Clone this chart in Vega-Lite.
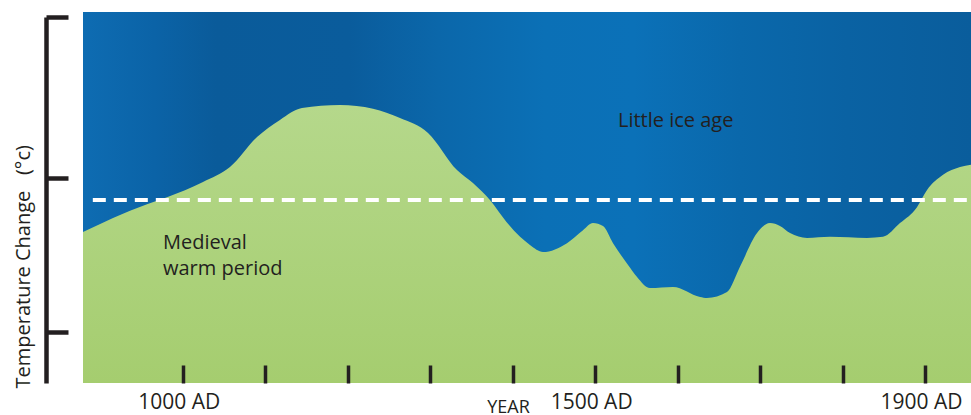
{
  "$schema": "https://vega.github.io/schema/vega-lite/v6.json",
  "width": 888,
  "height": 366,
  "autosize": "none",
  "padding": {"left": 83, "top": 17, "right": 0, "bottom": 32},
  "background": "white",
  "config": {"view": {"stroke": null}, "font": "Open Sans"},
  "datasets": {
    "bg": [{"start": 879.1, "end": 1955.7, "bottom": 0, "top": 100}],
    "curve": [
      {"year": 879.1, "temp": 40.7},
      {"year": 915.5, "temp": 44.5},
      {"year": 956.7, "temp": 48.2},
      {"year": 980.9, "temp": 50.1},
      {"year": 1024.6, "temp": 54.2},
      {"year": 1057.3, "temp": 58.2},
      {"year": 1090.1, "temp": 66.3},
      {"year": 1117.9, "temp": 70.9},
      {"year": 1144.6, "temp": 74.1},
      {"year": 1190.7, "temp": 74.9},
      {"year": 1230.7, "temp": 73.9},
      {"year": 1263.4, "temp": 71.4},
      {"year": 1297.4, "temp": 67.4},
      {"year": 1332.5, "temp": 57.4},
      {"year": 1351.9, "temp": 53.9},
      {"year": 1372.5, "temp": 49.3},
      {"year": 1392.5, "temp": 43.4},
      {"year": 1409.0, "temp": 39.4},
      {"year": 1421.0, "temp": 37.2},
      {"year": 1436.8, "temp": 35.3},
      {"year": 1465.9, "temp": 37.7},
      {"year": 1485.3, "temp": 41.2},
      {"year": 1497.4, "temp": 43.1},
      {"year": 1509.5, "temp": 42.3},
      {"year": 1521.7, "temp": 37.7},
      {"year": 1539.9, "temp": 31.8},
      {"year": 1550.8, "temp": 28.6},
      {"year": 1566.5, "temp": 25.6},
      {"year": 1594.4, "temp": 25.9},
      {"year": 1627.2, "temp": 23.2},
      {"year": 1635.6, "temp": 22.9},
      {"year": 1659.9, "temp": 24.5},
      {"year": 1675.6, "temp": 31.3},
      {"year": 1696.3, "temp": 40.4},
      {"year": 1712.0, "temp": 43.1},
      {"year": 1724.1, "temp": 42.3},
      {"year": 1736.3, "temp": 40.4},
      {"year": 1756.9, "temp": 39.1},
      {"year": 1784.8, "temp": 39.4},
      {"year": 1829.6, "temp": 39.1},
      {"year": 1849.0, "temp": 39.4},
      {"year": 1869.6, "temp": 43.1},
      {"year": 1890.2, "temp": 47.4},
      {"year": 1902.4, "temp": 52.0},
      {"year": 1921.8, "temp": 56.1},
      {"year": 1942.4, "temp": 58.2},
      {"year": 1955.7, "temp": 58.8}
    ],
    "baseline": [{"from": 891, "to": 1955.7, "level": 49.3}],
    "notes": [
      {"year": 1527.7, "temp": 69.0, "label": "Little ice age"},
      {"year": 976.1, "temp": 36.1, "label": "Medieval"},
      {"year": 976.1, "temp": 29.1, "label": "warm period"}
    ]
  },
  "layer": [
    {
      "data": {"name": "bg"},
      "mark": {
        "type": "rect",
        "fill": {
          "gradient": "linear",
          "x1": 0, "y1": 0, "x2": 1, "y2": 0,
          "stops": [
            {"offset": 0, "color": "#0e6cb2"},
            {"offset": 0.08, "color": "#0b63a7"},
            {"offset": 0.15, "color": "#0a5b9a"},
            {"offset": 0.3, "color": "#0a5c9c"},
            {"offset": 0.4, "color": "#0b67aa"},
            {"offset": 0.52, "color": "#0b70b6"},
            {"offset": 0.62, "color": "#0b71b8"},
            {"offset": 0.74, "color": "#0a68ab"},
            {"offset": 0.86, "color": "#0a62a3"},
            {"offset": 1, "color": "#0a5d9c"}
          ]
        }
      },
      "encoding": {
        "x": {
          "field": "start", "type": "quantitative",
          "scale": {"domain": [879.1, 1955.7], "nice": false, "zero": false},
          "axis": {
            "orient": "bottom",
            "values": [1000, 1100, 1200, 1300, 1400, 1500, 1600, 1700, 1800, 1900],
            "domain": false,
            "grid": false,
            "zindex": 1,
            "tickSize": -18,
            "tickWidth": 3.5,
            "tickColor": "#231f20",
            "labelExpr": "(datum.value == 1000 || datum.value == 1500 || datum.value == 1900) ? datum.value + ' AD' : ''",
            "labelFont": "Open Sans",
            "labelFontSize": 21,
            "labelColor": "#231f20",
            "labelPadding": 26,
            "labelOffset": -4,
            "labelOverlap": false,
            "labelFlush": false,
            "title": "YEAR",
            "titleFont": "Open Sans",
            "titleFontSize": 18,
            "titleFontWeight": "normal",
            "titleColor": "#231f20",
            "titleX": 425,
            "titleY": 29,
            "titleBaseline": "alphabetic"
          }
        },
        "x2": {"field": "end"},
        "y": {
          "field": "bottom", "type": "quantitative",
          "scale": {"domain": [0, 98.65], "nice": false, "zero": false},
          "axis": {
            "orient": "left",
            "offset": 37,
            "values": [98.65, 55.26, 13.75],
            "grid": false,
            "labels": false,
            "domainColor": "#231f20",
            "domainWidth": 4.5,
            "tickColor": "#231f20",
            "tickWidth": 4.5,
            "tickSize": -22,
            "title": "Temperature Change\u00a0\u00a0 (°c)",
            "titleFont": "Open Sans",
            "titleFontSize": 20,
            "titleFontWeight": "normal",
            "titleColor": "#231f20",
            "titleAngle": -90,
            "titleAlign": "left",
            "titleBaseline": "middle",
            "titleX": -23,
            "titleY": 371
          }
        },
        "y2": {"field": "top"}
      }
    },
    {
      "data": {"name": "curve"},
      "mark": {
        "type": "area",
        "interpolate": "monotone",
        "fill": {
          "gradient": "linear",
          "x1": 0, "y1": 0, "x2": 0, "y2": 1,
          "stops": [
            {"offset": 0, "color": "#b5d88b"},
            {"offset": 1, "color": "#a5cd6f"}
          ]
        }
      },
      "encoding": {
        "x": {"field": "year", "type": "quantitative"},
        "y": {"field": "temp", "type": "quantitative"}
      }
    },
    {
      "data": {"name": "baseline"},
      "mark": {"type": "rule", "color": "white", "strokeWidth": 4, "strokeDash": [13, 8], "strokeCap": "butt"},
      "encoding": {
        "x": {"field": "from", "type": "quantitative"},
        "x2": {"field": "to"},
        "y": {"field": "level", "type": "quantitative"}
      }
    },
    {
      "data": {"name": "notes"},
      "mark": {"type": "text", "align": "left", "baseline": "alphabetic", "font": "Open Sans", "fontSize": 20, "color": "#231f20"},
      "encoding": {
        "x": {"field": "year", "type": "quantitative"},
        "y": {"field": "temp", "type": "quantitative"},
        "text": {"field": "label"}
      }
    }
  ]
}
